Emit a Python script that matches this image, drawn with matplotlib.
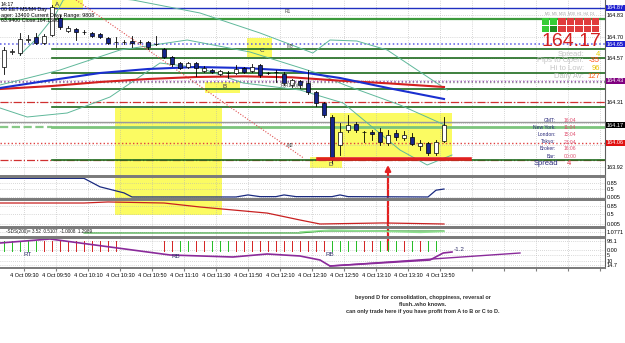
import matplotlib.pyplot as plt
from matplotlib.patches import Rectangle, ConnectionPatch

plt.rcParams['font.family'] = ['Liberation Sans', 'DejaVu Sans']

W, H = 625, 343

# ---- M5 candles, index 0 = first bar on screen ----
opens = [164.518, 164.608, 164.602, 164.680, 164.698, 164.662, 164.710, 164.812, 164.734, 164.746,
         164.728, 164.722, 164.716, 164.692, 164.668, 164.668, 164.674, 164.668, 164.668, 164.656,
         164.626, 164.578, 164.542, 164.518, 164.542, 164.494, 164.500, 164.476, 164.482, 164.482,
         164.512, 164.494, 164.530, 164.482, 164.488, 164.476, 164.410, 164.434, 164.422, 164.368,
         164.302, 164.218, 164.050, 164.140, 164.176, 164.128, 164.128, 164.128, 164.062, 164.122,
         164.092, 164.098, 164.044, 164.062, 164.002, 164.074]
highs = [164.638, 164.626, 164.722, 164.710, 164.722, 164.716, 164.890, 164.830, 164.764, 164.752,
         164.740, 164.728, 164.722, 164.698, 164.698, 164.680, 164.704, 164.680, 164.674, 164.704,
         164.632, 164.584, 164.548, 164.548, 164.548, 164.524, 164.506, 164.500, 164.494, 164.530,
         164.518, 164.536, 164.536, 164.488, 164.500, 164.488, 164.446, 164.440, 164.500, 164.374,
         164.308, 164.230, 164.182, 164.230, 164.188, 164.134, 164.140, 164.152, 164.140, 164.140,
         164.134, 164.122, 164.080, 164.068, 164.080, 164.218]
lows = [164.476, 164.596, 164.590, 164.668, 164.656, 164.656, 164.704, 164.746, 164.728, 164.680,
        164.716, 164.698, 164.692, 164.656, 164.638, 164.656, 164.638, 164.662, 164.626, 164.650,
        164.572, 164.524, 164.506, 164.512, 164.464, 164.488, 164.482, 164.470, 164.452, 164.476,
        164.482, 164.488, 164.458, 164.476, 164.428, 164.410, 164.398, 164.392, 164.356, 164.284,
        164.218, 163.942, 163.990, 164.128, 164.128, 164.068, 164.080, 164.050, 164.050, 164.080,
        164.080, 164.050, 164.020, 163.990, 163.990, 164.068]
closes = [164.620, 164.614, 164.686, 164.686, 164.662, 164.704, 164.878, 164.758, 164.752, 164.728,
          164.726, 164.704, 164.698, 164.662, 164.666, 164.670, 164.662, 164.670, 164.638, 164.654,
          164.578, 164.536, 164.512, 164.542, 164.512, 164.512, 164.488, 164.494, 164.480, 164.506,
          164.488, 164.518, 164.470, 164.480, 164.486, 164.422, 164.440, 164.410, 164.368, 164.302,
          164.230, 163.978, 164.128, 164.170, 164.140, 164.126, 164.116, 164.068, 164.110, 164.098,
          164.110, 164.056, 164.062, 164.002, 164.068, 164.170]

# moving averages (read at a few bars)
ma_x = [-0.5, 6, 12, 18, 24, 30, 36, 42, 48, 55]
ma_blue = [164.392, 164.440, 164.482, 164.506, 164.518, 164.512, 164.496, 164.452, 164.392, 164.326]
ma_red = [164.386, 164.404, 164.428, 164.446, 164.458, 164.462, 164.456, 164.436, 164.420, 164.398]

# bands
bb_up_x = [2, 3.9, 6.4, 7.4, 9.5, 16.1, 24.5, 32, 38.6, 40.75, 44.1, 47.9, 55.4]
bb_up = [164.59, 164.68, 164.83, 164.92, 164.95, 164.92, 164.842, 164.722, 164.602, 164.68, 164.674, 164.62, 164.38]
bb_mid_x = [-0.5, 7, 14.5, 22.9, 30.75, 39.1, 42.6, 49.5, 55.1]
bb_mid = [164.41, 164.50, 164.62, 164.68, 164.608, 164.482, 164.41, 164.29, 164.17]
bb_low_x = [-0.5, 2.9, 7.9, 13.25, 19.5, 24.5, 29.9, 37, 42.4, 49.5, 52.9, 56]
bb_low = [164.272, 164.218, 164.242, 164.338, 164.542, 164.512, 164.422, 164.38, 164.302, 164.02, 163.93, 163.99]

trend_x = [9, 37.5]
trend_y = [164.92, 163.97]

# horizontal levels
full_levels = [164.872, 164.806, 164.656, 164.434, 164.428, 164.308, 164.188, 164.062, 163.960]
pivot_levels = [164.626, 164.572, 164.482, 164.386, 164.278, 164.158, 163.958]
pivot_start = 6
support_line = [39.25, 58.25, 163.966]

# time axis
grid_x = [2.5 + 4 * j for j in range(19)]
time_labels = ['4 Oct 09:30', '4 Oct 09:50', '4 Oct 10:10', '4 Oct 10:30', '4 Oct 10:50',
               '4 Oct 11:10', '4 Oct 11:30', '4 Oct 11:50', '4 Oct 12:10', '4 Oct 12:30',
               '4 Oct 12:50', '4 Oct 13:10', '4 Oct 13:30', '4 Oct 13:50']

# sub-window indicators
p2_x = [-0.5, 10, 12, 15, 16, 29, 30.5, 32, 34, 35, 36.5, 38, 41, 42, 43, 53, 54, 55]
p2_v = [1.1, 1.1, 0.6, 0.24, 0.0, 0.0, 0.12, 0.02, 0.02, 0.12, 0.02, 0.02, 0.02, 0.12, 0.02, 0.0, 0.4, 0.47]
p3_x = [-0.5, 10, 13, 20, 24.5, 32.9, 37, 39.5, 47.4, 55]
p3_v = [1.0, 1.0, 1.05, 1.0, 0.81, 0.52, 0.19, 0.0, 0.05, 0.0]
p4a_x = [10, 37, 40, 55]
p4a_v = [4, 4, 6, 6]
p4b_x = [37, 41, 46, 52, 55]
p4b_v = [5, 7, 6, 4.5, 5.5]
p5_x = [-0.5, 5.75, 13.25, 20.75, 28.6, 32.9, 37, 39.5, 40.75, 53.25, 54.9, 56]
p5_v = [-5, -1, -9, -17, -19, -16, -18, -22, -28, -22, -15, -14]
p5_trend_x = [40.75, 64.5]
p5_trend_v = [-28, -15]
hist_colors = (['g'] * 5 + ['r'] * 10 + [''] * 5 + ['r', 'r', 'g', 'g', 'r', 'r', 'g', 'g', 'g']
               + ['r'] * 12 + ['g', 'g', 'g', 'g', 'r', 'r', 'g', 'g', 'g', 'r', 'g', 'r', 'g', 'g'])

sig_row1 = ['up', 'up', 'dn', 'dn', 'dn', 'dn', 'dn']
sig_row2 = ['up', 'up', 'dn', 'dn', 'dn', 'dn', 'dn']


def px_box(x0, y0, x1, y1):
    return [x0 / W, 1 - y1 / H, (x1 - x0) / W, (y1 - y0) / H]


fig = plt.figure(figsize=(W / 100, H / 100), dpi=100)
fig.patch.set_facecolor('white')


def ftext(x, y, s, **kw):
    kw.setdefault('va', 'center')
    fig.text(x / W, 1 - y / H, s, **kw)


def setup(ax, ylim, yticks, ylabels, zorder=1):
    ax.set_zorder(zorder)
    ax.set_facecolor('none')
    ax.set_xlim(-0.5, 75.125)
    ax.set_ylim(*ylim)
    ax.yaxis.tick_right()
    ax.set_yticks(yticks)
    ax.set_yticklabels(ylabels, fontsize=4)
    ax.tick_params(axis='y', length=0, pad=1.5)
    ax.set_xticks(grid_x)
    ax.set_xticklabels([])
    ax.tick_params(axis='x', length=0)
    ax.set_axisbelow(True)
    ax.grid(True, color='#b4b4b4', ls=(0, (1, 2)), lw=0.5)
    ax.spines['left'].set_visible(False)
    ax.spines['right'].set_color('#606060')
    ax.spines['right'].set_linewidth(0.8)
    for s in ['top', 'bottom']:
        ax.spines[s].set_color('#7a7a7a')
        ax.spines[s].set_linewidth(1.4)


# ---------------- main price window ----------------
ax = fig.add_axes(px_box(0, 0, 605, 176))
main_ticks = [164.83, 164.70, 164.57, 164.44, 164.31, 164.18, 164.05, 163.92]
main_labels = ['164.83', '164.70', '164.57', '', '164.31', '', '', '163.92']
setup(ax, (163.864, 164.92), main_ticks, main_labels, zorder=0)
ax.spines['top'].set_visible(False)

yellow = '#fbfb62'
for (x0, x1, y0, y1) in [(6, 9.875, 164.86, 164.92), (30.4, 33.5, 164.578, 164.692),
                         (25.1, 29.5, 164.362, 164.428), (40.75, 56, 163.978, 164.242),
                         (38.25, 42.25, 163.912, 163.978)]:
    ax.add_patch(Rectangle((x0, y0), x1 - x0, y1 - y0, color=yellow, zorder=0.2, lw=0))
ax.add_patch(Rectangle((13.875, 163.63), 13.375, 0.642, color=yellow, zorder=0.2, lw=0, clip_on=False))

# levels
full_styles = [('#2030c0', '-', 1.0), ('#3c9a3c', '-', 1.6), ('#5a5ae6', ':', 1.1),
               ('#a050c0', ':', 1.0), ('#909090', ':', 1.0), ('#d03030', '-.', 0.9),
               ('#9a9a9a', '-', 1.0), ('#e04040', ':', 1.0), ('#d03030', '-.', 0.9)]
for lv, (c, ls, lw) in zip(full_levels, full_styles):
    ax.axhline(lv, color=c, ls=ls, lw=lw, zorder=1)
for i, lv in enumerate(pivot_levels):
    if i == 5:
        ax.plot([-0.5, pivot_start], [lv, lv], color='#88c888', ls='--', lw=1.6, zorder=1)
        ax.plot([pivot_start, 75.2], [lv, lv], color='#7cc47c', lw=2.0, zorder=1)
    else:
        ax.plot([pivot_start, 75.2], [lv, lv], color='#1e6b1e', lw=1.2, zorder=1)

ax.plot(support_line[:2], [support_line[2]] * 2, color='#e02020', lw=2.6, zorder=4)

# bands & trend
for bx, by in [(bb_up_x, bb_up), (bb_mid_x, bb_mid), (bb_low_x, bb_low)]:
    ax.plot(bx, by, color='#5fb89a', lw=0.7, zorder=2)
ax.plot(trend_x, trend_y, color='#e05050', ls=(0, (1, 1.5)), lw=0.8, zorder=2)

# MAs
ax.plot(ma_x, ma_red, color='#d42020', lw=1.5, zorder=2.5)
ax.plot(ma_x, ma_blue, color='#1a2fd0', lw=1.5, zorder=2.6)

# candles
for i, (o, h, l, c) in enumerate(zip(opens, highs, lows, closes)):
    ax.plot([i, i], [l, h], color='black', lw=0.6, zorder=3)
    bull = c >= o
    ax.bar(i, max(abs(c - o), 0.0015), bottom=min(o, c), width=0.62,
           color='white' if bull else '#16268c', edgecolor='black', lw=0.5, zorder=3.5)

# point labels
for lab, x, y in [('A', 6.6, 164.896), ('B', 27.6, 164.398), ('C', 32.25, 164.614), ('D', 40.9, 163.932)]:
    ax.text(x, y, lab, fontsize=4.5, color='#30305a', ha='center', va='center', zorder=5)
for lab, x, y in [('R1', 35.5, 164.848), ('M3', 35.7, 164.638), ('M2', 35.8, 164.046),
                  ('P(R1.5)(F)', 36.0, 164.408)]:
    ax.text(x, y, lab, fontsize=3.5, color='#505050', ha='center', va='center', zorder=5)

# price boxes on right scale
for val, txt, col in [(164.872, '164.87', '#2020d0'), (164.656, '164.65', '#2020d0'),
                      (164.434, '164.43', '#800080'), (164.17, '164.17', 'black'),
                      (164.062, '164.06', '#e01010')]:
    ax.text(1.003, val, txt, transform=ax.get_yaxis_transform(), fontsize=4, color='white',
            ha='left', va='center', zorder=6, clip_on=False,
            bbox=dict(boxstyle='square,pad=0.15', fc=col, ec='none'))

# ---------------- sub windows ----------------
ax2 = fig.add_axes(px_box(0, 177, 605, 199))
setup(ax2, (-0.12, 1.18), [0.85, 0.5, 0.0], ['0.85', '0.5', '0.005'])
ax2.plot(p2_x, p2_v, color='#1a2a80', lw=0.9)

ax3 = fig.add_axes(px_box(0, 200, 605, 227))
setup(ax3, (-0.143, 1.143), [0.85, 0.5, 0.0], ['0.85', '0.5', '0.005'])
ax3.plot(p3_x, p3_v, color='#c82020', lw=0.9)

ax4 = fig.add_axes(px_box(0, 228, 605, 237))
setup(ax4, (0, 9), [5], ['1.0771'])
ax4.plot(p4a_x, p4a_v, color='#2e9e2e', lw=0.8)
ax4.plot(p4b_x, p4b_v, color='#8ee08e', lw=1.0)
ax4.text(0.3, 5, '-SDS(200)= 3.52  0.5107  -1.0008  1.2989', fontsize=3.3, va='center', color='#202020')

ax5 = fig.add_axes(px_box(0, 238, 605, 268))
setup(ax5, (-30, 0), [-3, -12, -17, -23, -27], ['98.1', '0.00', '5', '10', '14.7'])
for i, c in enumerate(hist_colors):
    if c:
        ax5.plot([i, i], [-3, -13], color='#22bb22' if c == 'g' else '#d42020', lw=0.7)
ax5.plot(p5_x, p5_v, color='#8a2a9a', lw=1.2)
ax5.plot(p5_trend_x, p5_trend_v, color='#8a2a9a', lw=1.0)
ax5.text(2.5, -17, 'RT', fontsize=4.5, color='#30306a', va='center')
ax5.text(21, -19, 'RB', fontsize=4.5, color='#30306a', va='center')
ax5.text(40.2, -17, 'RB', fontsize=4.5, color='#30306a', va='center')
ax5.text(56.2, -12, '-1.2', fontsize=4.5, color='#30306a', va='center')
ax5.set_xticklabels(time_labels + [''] * (len(grid_x) - len(time_labels)), fontsize=4)
ax5.tick_params(axis='x', length=2, pad=1.5, color='#808080')

# red arrow from sub window up to D
con = ConnectionPatch(xyA=(48, -12), coordsA=ax5.transData, xyB=(48, 163.93), coordsB=ax.transData,
                      arrowstyle='-|>', color='#e42020', lw=1.6, mutation_scale=8)
fig.add_artist(con)

# ---------------- info panel ----------------
axs = fig.add_axes(px_box(541, 17, 600, 32))
axs.set_zorder(5)
for row, states in enumerate([sig_row2, sig_row1]):
    for col, st in enumerate(states):
        if st == 'up':
            fc = '#1f8f1f' if (row == 0 and col == 1) else '#36cc36'
        else:
            fc = '#e03c3c'
        axs.bar(col, 0.85, bottom=row, width=0.85, color=fc, align='center')
axs.set_xlim(-0.5, 6.5)
axs.set_ylim(0, 2)
axs.axis('off')
ftext(570, 14, 'M1  M5  M15  M30  H1  H4  D1', fontsize=2.6, color='#a0a0a0', ha='center')

ftext(571, 41, '164.17', fontsize=14, color='#d42020', ha='center')
for y, lab, val, vc in [(54, 'Spread:', '4', '#e8d000'), (61, 'Pips to Open:', '-35', '#ff4a10'),
                        (68, 'Hi to Low:', '96', '#e8c000'), (76, 'Daily Av:', '127', '#ff5a10')]:
    ftext(584, y, lab, fontsize=5.5, color='#c4c4c4', ha='right')
    ftext(600, y, val, fontsize=5.5, color=vc, ha='right')

for y, lab, val in [(120, 'GMT:', '16:04'), (127, 'New York:', '11:04'), (134, 'London:', '15:04'),
                    (142, 'Tokyo:', '23:04'), (149, 'Broker:', '16:06'), (157, 'Bar:', '00:00')]:
    ftext(556, y, lab, fontsize=3.6, color='#2a2a7a', ha='right')
    ftext(564, y, val, fontsize=3.6, color='#e05070', ha='left')
ftext(558, 164, 'Spread', fontsize=5.5, color='#2a2a7a', ha='right')
ftext(567, 164, '4', fontsize=5.5, color='#e03040', ha='left')

# top-left header
for y, s in [(4, '14:17'), (10, '00 EET M5/M4 Day'), (15, 'ager: 13400 Current Days Range: 9808'),
             (21, '63.9400 Close:164.1300')]:
    ftext(1, y, s, fontsize=3.8, color='black', ha='left')

# caption
for y, s in [(297, 'beyond D for consolidation, choppiness, reversal or'),
             (304, 'flush..who knows.'),
             (311, 'can only trade here if you have profit from A to B or C to D.')]:
    ftext(423, y, s, fontsize=4.0, color='#303030', ha='center', fontweight='bold')

fig.savefig('out.png', dpi=100)
